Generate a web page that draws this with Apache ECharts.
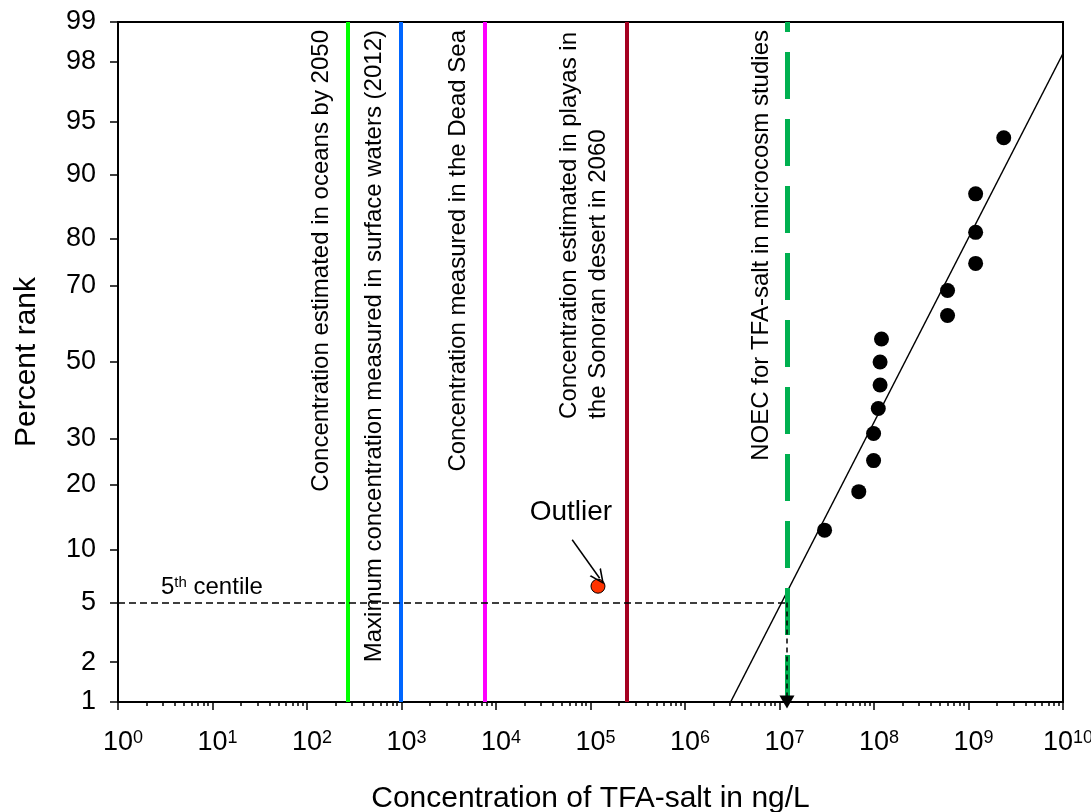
<!DOCTYPE html>
<html>
<head>
<meta charset="utf-8">
<script src="https://cdn.jsdelivr.net/npm/echarts@6/dist/echarts.min.js"></script>
<style>
html,body{margin:0;padding:0;background:#fff;}
#chart{width:1091px;height:812px;}
</style>
</head>
<body>
<div id="chart"></div>
<script>
// ---------------- data ----------------
const yTickPercents = [1, 2, 5, 10, 20, 30, 50, 70, 80, 90, 95, 98, 99];
const xDecadeExponents = [0, 1, 2, 3, 4, 5, 6, 7, 8, 9, 10];
const minorMultipliers = [2, 3, 4, 5, 6, 7, 8, 9];

// species sensitivity points (concentration ng/L, percent rank)
const concentrations = [3.0e7, 6.9e7, 9.9e7, 9.9e7, 1.11e8, 1.16e8, 1.16e8, 1.2e8, 6.0e8, 6.0e8, 1.19e9, 1.19e9, 1.19e9, 2.36e9];
const percentRanks   = [12.5, 18.75, 25, 31.25, 37.5, 43.75, 50, 56.25, 62.5, 68.75, 75, 81.25, 87.5, 93.75];

const outlierConc = [1.2e5];
const outlierRank = [6.25];

// fitted regression line end points
const fitConc = [3.04e6, 1e10];
const fitRank = [1, 98.26];

// reference concentrations
const refNames = [
  'Concentration estimated in oceans by 2050',
  'Maximum concentration measured in surface waters (2012)',
  'Concentration measured in the Dead Sea',
  ['Concentration estimated in playas in', 'the Sonoran desert in 2060'],
  'NOEC for TFA-salt in microcosm studies'
];
const refConc = [2.67e2, 9.8e2, 7.6e3, 2.4e5, 1.2e7];
const refColors = ['#00ff00', '#0066ff', '#ff00ff', '#a50021', '#00b050'];

const centilePercent = 5;
// annotation anchors (concentration, percent)
const outlierLabelAt = [6.2e4, 15.2];
const outlierArrowFrom = [6.4e4, 11.2];
const outlierArrowTo = [1.25e5, 6.95];

// ---------------- helpers ----------------
function probit(p) {
  const a=[-3.969683028665376e+01,2.209460984245205e+02,-2.759285104469687e+02,1.383577518672690e+02,-3.066479806614716e+01,2.506628277459239e+00];
  const b=[-5.447609879822406e+01,1.615858368580409e+02,-1.556989798598866e+02,6.680131188771972e+01,-1.328068155288572e+01];
  const c=[-7.784894002430293e-03,-3.223964580411365e-01,-2.400758277161838e+00,-2.549732539343734e+00,4.374664141464968e+00,2.938163982698783e+00];
  const d=[7.784695709041462e-03,3.224671290700398e-01,2.445134137142996e+00,3.754408661907416e+00];
  const pl=0.02425, ph=1-pl; let q, r;
  if (p < pl) { q=Math.sqrt(-2*Math.log(p)); return (((((c[0]*q+c[1])*q+c[2])*q+c[3])*q+c[4])*q+c[5])/((((d[0]*q+d[1])*q+d[2])*q+d[3])*q+1); }
  if (p > ph) { q=Math.sqrt(-2*Math.log(1-p)); return -(((((c[0]*q+c[1])*q+c[2])*q+c[3])*q+c[4])*q+c[5])/((((d[0]*q+d[1])*q+d[2])*q+d[3])*q+1); }
  q=p-0.5; r=q*q;
  return (((((a[0]*r+a[1])*r+a[2])*r+a[3])*r+a[4])*r+a[5])*q/(((((b[0]*r+b[1])*r+b[2])*r+b[3])*r+b[4])*r+1);
}
const X = v => Math.log10(v);
const Y = pct => probit(pct / 100);
const pt = (c, p) => [X(c), Y(p)];

const FONT = '"Liberation Sans", Arial, Helvetica, sans-serif';
function textWidth(t, size) {
  const ctx = document.createElement('canvas').getContext('2d');
  ctx.font = size + 'px ' + FONT;
  return ctx.measureText(t).width;
}

const yTickZ = yTickPercents.map(Y);
const yMin = Y(yTickPercents[0]);
const yMax = Y(yTickPercents[yTickPercents.length - 1]);
const minorExps = [];
xDecadeExponents.slice(0, -1).forEach(n => minorMultipliers.forEach(k => minorExps.push(n + Math.log10(k))));

const REF_FONT = 24;
const REF_DIST = [8, 14];
const refLines = refConc.map((c, i) => {
  const name = refNames[i];
  let label;
  if (Array.isArray(name)) {
    const w = Math.max(...name.map(s => textWidth(s, REF_FONT))) + 2;
    label = {
      show: true, position: 'insideEndTop', distance: REF_DIST,
      formatter: name.map(s => '{a|' + s + '}').join('\n'),
      rich: { a: { width: w, align: 'left', fontSize: REF_FONT, lineHeight: 29, color: '#000', fontFamily: FONT } }
    };
  } else {
    label = { show: true, position: 'insideEndTop', distance: REF_DIST, formatter: name,
      fontSize: REF_FONT, color: '#000', fontFamily: FONT };
  }
  const isDashed = i === refConc.length - 1;
  return {
    xAxis: X(c),
    lineStyle: { color: refColors[i], width: isDashed ? 5 : 4, type: isDashed ? [47, 20] : 'solid' },
    label
  };
});

const noecX = X(refConc[refConc.length - 1]);
const chevron = 'path://M50,0 L100,100 L87,100 L50,24 L13,100 L0,100 Z';
const SUP = 18;

const option = {
  animation: false,
  textStyle: { fontFamily: FONT, color: '#000' },
  grid: [
    { left: 118, right: 28, top: 22, bottom: 110, outerBoundsMode: 'none', containLabel: false,
      show: true, borderColor: '#000', borderWidth: 2, backgroundColor: 'transparent' },
    { left: 118, right: 28, top: 22, bottom: 110, outerBoundsMode: 'none', containLabel: false, show: false }
  ],
  xAxis: [
    {
      type: 'value', gridIndex: 0, min: 0, max: 10, position: 'bottom',
      axisLine: { onZero: false, lineStyle: { color: '#000', width: 2 } },
      axisTick: { customValues: xDecadeExponents, length: 8, lineStyle: { color: '#000', width: 1.5 } },
      axisLabel: {
        customValues: xDecadeExponents, margin: 27, color: '#000',
        formatter: v => {
          const e = String(Math.round(v));
          return '{p|}{b|10}{s|' + e + '}';
        },
        rich: {
          p: { width: SUP * 0.556, fontSize: SUP },
          b: { fontSize: 27, color: '#000', fontFamily: FONT },
          s: { fontSize: SUP, color: '#000', fontFamily: FONT, verticalAlign: 'top' }
        }
      },
      splitLine: { show: false },
      name: 'Concentration of TFA-salt in ng/L', nameLocation: 'middle', nameGap: 82,
      nameTextStyle: { fontSize: 30, color: '#000', fontFamily: FONT }
    },
    {
      type: 'value', gridIndex: 1, min: 0, max: 10, position: 'bottom',
      axisLine: { show: false, onZero: false }, axisLabel: { show: false }, splitLine: { show: false },
      axisTick: { customValues: minorExps, length: 4, lineStyle: { color: '#000', width: 1.5 } }
    }
  ],
  yAxis: [
    {
      type: 'value', gridIndex: 0, min: yMin, max: yMax,
      axisLine: { onZero: false, lineStyle: { color: '#000', width: 2 } },
      axisTick: { customValues: yTickZ, length: 8, lineStyle: { color: '#000', width: 1.5 } },
      axisLabel: {
        customValues: yTickZ, margin: 22, fontSize: 27, color: '#000',
        formatter: v => {
          let best = 0;
          yTickZ.forEach((z, i) => { if (Math.abs(z - v) < Math.abs(yTickZ[best] - v)) best = i; });
          return String(yTickPercents[best]);
        }
      },
      splitLine: { show: false },
      name: 'Percent rank', nameLocation: 'middle', nameRotate: 90, nameGap: 76,
      nameTextStyle: { fontSize: 30, color: '#000', fontFamily: FONT }
    },
    { type: 'value', gridIndex: 1, min: yMin, max: yMax, show: false, axisLine: { onZero: false } }
  ],
  series: [
    {
      type: 'line', xAxisIndex: 0, yAxisIndex: 0,
      data: fitConc.map((c, i) => pt(c, fitRank[i])),
      symbol: 'none', lineStyle: { color: '#000', width: 1.5 }, z: 3, silent: true,
      markLine: {
        silent: true, symbol: 'none', animation: false,
        data: refLines
      }
    },
    {
      type: 'scatter', xAxisIndex: 0, yAxisIndex: 0,
      data: concentrations.map((c, i) => pt(c, percentRanks[i])),
      symbol: 'circle', symbolSize: 15, itemStyle: { color: '#000', opacity: 1 }, z: 6
    },
    {
      type: 'scatter', xAxisIndex: 0, yAxisIndex: 0,
      data: outlierConc.map((c, i) => pt(c, outlierRank[i])),
      symbol: 'circle', symbolSize: 14, itemStyle: { color: '#ff3300', borderColor: '#000', borderWidth: 1, opacity: 1 }, z: 6,
      markPoint: {
        silent: true, symbol: 'circle', symbolSize: 0,
        data: [{ coord: pt(outlierLabelAt[0], outlierLabelAt[1]),
          label: { show: true, position: 'inside', formatter: 'Outlier', fontSize: 28, color: '#000', fontFamily: FONT } }]
      },
      markLine: {
        silent: true, symbol: 'none', animation: false, z: 7,
        data: [
          [
            { coord: [X(1), Y(centilePercent)],
              label: { show: true, position: 'insideStartTop', distance: [43, 3],
                formatter: '{n|5}{s|th}{n| centile}',
                rich: { n: { fontSize: 24, color: '#000', fontFamily: FONT }, s: { fontSize: 15, color: '#000', fontFamily: FONT, verticalAlign: 'top' } } },
              lineStyle: { color: '#000', width: 1.5, type: [7, 4] } },
            { coord: [noecX, Y(centilePercent)] }
          ],
          [
            { coord: [noecX, Y(centilePercent)], symbol: 'none',
              label: { show: false }, lineStyle: { color: '#000', width: 1.5, type: [5, 4] } },
            { coord: [noecX, Y(yTickPercents[0])], symbol: 'triangle', symbolSize: [15, 13] }
          ],
          [
            { coord: pt(outlierArrowFrom[0], outlierArrowFrom[1]), symbol: 'none',
              label: { show: false }, lineStyle: { color: '#000', width: 1.5, type: 'solid' } },
            { coord: pt(outlierArrowTo[0], outlierArrowTo[1]), symbol: chevron, symbolSize: [14, 15] }
          ]
        ]
      }
    }
  ]
};

const chart = echarts.init(document.getElementById('chart'), null, { renderer: 'canvas' });
chart.setOption(option);
</script>
</body>
</html>
